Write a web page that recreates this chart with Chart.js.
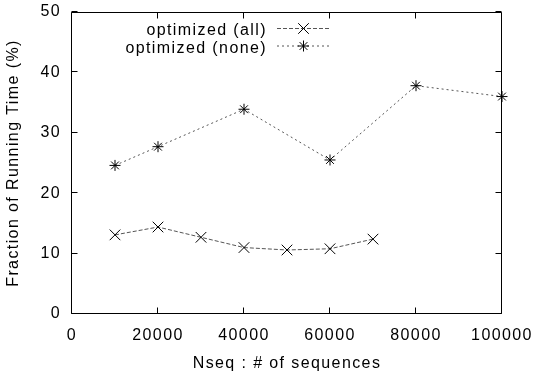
<!DOCTYPE html>
<html>
<head>
<meta charset="utf-8">
<script src="https://cdn.jsdelivr.net/npm/chart.js@4"></script>
<style>
  html, body { margin: 0; padding: 0; background: #fff; }
  #wrap { width: 535px; height: 375px; }
</style>
</head>
<body>
<div id="wrap"><canvas id="chart" width="535" height="375"></canvas></div>
<script>
// values
var allX = [10000, 20000, 30000, 40000, 50000, 60000, 70000];
var allY = [13.1, 14.4, 12.7, 11.0, 10.6, 10.8, 12.4];
var noneX = [10000, 20000, 40000, 60000, 80000, 100000];
var noneY = [24.6, 27.7, 33.9, 25.5, 37.8, 36.0];
var seriesNames = ['optimized (all)', 'optimized (none)'];
var xTicks = [0, 20000, 40000, 60000, 80000, 100000];
var yTicks = [0, 10, 20, 30, 40, 50];

var FONT = 'Liberation Sans, Arial, Helvetica, sans-serif';
var SPACING = '1.4px'; // gnuplot text is set wider than plain Arial

function toPoints(xs, ys) {
    return xs.map(function(x, i) { return { x: x, y: ys[i] }; });
}

// widen the text a bit everywhere (canvas resize resets this, so redo it)
var spacingPlugin = {
    id: 'spacing',
    beforeUpdate: function(chart) { chart.ctx.letterSpacing = SPACING; },
    beforeDraw: function(chart) { chart.ctx.letterSpacing = SPACING; }
};

// gnuplot-like frame with ticks pointing inwards on all four sides
var framePlugin = {
    id: 'frame',
    afterDraw: function(chart) {
        var ctx = chart.ctx, a = chart.chartArea;
        var xs = chart.scales.x, ys = chart.scales.y;
        var L = Math.round(a.left) - 0.5, R = Math.round(a.right) - 0.5;
        var T = Math.round(a.top) + 0.5, B = Math.round(a.bottom) - 0.5;
        var len = 6;
        ctx.save();
        ctx.strokeStyle = '#000';
        ctx.lineWidth = 1;
        ctx.setLineDash([]);
        ctx.beginPath();
        ctx.rect(L, T, R - L, B - T);
        xTicks.forEach(function(v) {
            var px = Math.round(xs.getPixelForValue(v)) - 0.5;
            ctx.moveTo(px, B); ctx.lineTo(px, B - len);
            ctx.moveTo(px, T); ctx.lineTo(px, T + len);
        });
        yTicks.forEach(function(v) {
            var py = Math.round(ys.getPixelForValue(v)) - 0.5;
            ctx.moveTo(L, py); ctx.lineTo(L + len, py);
            ctx.moveTo(R, py); ctx.lineTo(R - len, py);
        });
        ctx.stroke();
        ctx.restore();
    }
};

// key in the top-left, text right-aligned, sample after the text
var keyPlugin = {
    id: 'key',
    afterDraw: function(chart) {
        var ctx = chart.ctx;
        var textRight = 267, x0 = 277, x1 = 330;
        var baselines = [35, 52.5];
        ctx.save();
        chart.data.datasets.forEach(function(ds, i) {
            var y = baselines[i];
            var ly = y - 6.5;
            ctx.font = '16px ' + FONT;
            ctx.fillStyle = '#000';
            ctx.textAlign = 'right';
            ctx.textBaseline = 'alphabetic';
            ctx.fillText(ds.label, textRight, y);
            ctx.strokeStyle = ds.borderColor;
            ctx.lineWidth = ds.borderWidth;
            ctx.setLineDash(ds.borderDash);
            ctx.beginPath();
            ctx.moveTo(x0, ly); ctx.lineTo(x1, ly);
            ctx.stroke();
            ctx.setLineDash([]);
            ctx.strokeStyle = ds.pointBorderColor;
            ctx.lineWidth = ds.pointBorderWidth;
            Chart.helpers.drawPoint(ctx, { pointStyle: ds.pointStyle, radius: ds.pointRadius, rotation: 0, borderWidth: ds.pointBorderWidth }, (x0 + x1) / 2, ly);
        });
        ctx.restore();
    }
};

function noPadding(scale) {
    scale.paddingTop = 0;
    scale.paddingBottom = 0;
    scale.paddingLeft = 0;
    scale.paddingRight = 0;
}

var ctx = document.getElementById('chart').getContext('2d');
var myChart = new Chart(ctx, {
    type: 'scatter',
    data: {
        datasets: [{
            label: seriesNames[0],
            data: toPoints(allX, allY),
            showLine: true,
            borderColor: '#555',
            borderWidth: 1,
            borderDash: [4, 2],
            pointStyle: 'crossRot',
            pointRadius: 7.5,
            pointBorderColor: '#000',
            pointBorderWidth: 1,
            clip: false
        }, {
            label: seriesNames[1],
            data: toPoints(noneX, noneY),
            showLine: true,
            borderColor: '#555',
            borderWidth: 1,
            borderDash: [2, 3],
            pointStyle: 'star',
            pointRadius: 5.5,
            pointBorderColor: '#000',
            pointBorderWidth: 1,
            clip: false
        }]
    },
    options: {
        responsive: false,
        animation: false,
        layout: { padding: { top: 12, right: 33, left: 0, bottom: 0 } },
        plugins: {
            legend: { display: false },
            tooltip: { enabled: false }
        },
        scales: {
            x: {
                type: 'linear',
                min: 0,
                max: 100000,
                afterBuildTicks: function(scale) {
                    scale.ticks = xTicks.map(function(v) { return { value: v }; });
                },
                afterFit: function(scale) { scale.height = 61; noPadding(scale); },
                grid: { display: false, drawTicks: false },
                border: { display: false },
                ticks: {
                    padding: 12,
                    color: '#000',
                    maxRotation: 0,
                    font: { family: FONT, size: 16 },
                    callback: function(v) { return String(v); }
                },
                title: {
                    display: true,
                    text: 'Nseq : # of sequences',
                    color: '#000',
                    font: { family: FONT, size: 16 },
                    padding: { top: 0, bottom: 2 }
                }
            },
            y: {
                type: 'linear',
                min: 0,
                max: 50,
                afterBuildTicks: function(scale) {
                    scale.ticks = yTicks.map(function(v) { return { value: v }; });
                },
                afterFit: function(scale) { scale.width = 72; noPadding(scale); },
                grid: { display: false, drawTicks: false },
                border: { display: false },
                ticks: {
                    padding: 11,
                    color: '#000',
                    font: { family: FONT, size: 16 }
                },
                title: {
                    display: true,
                    text: 'Fraction of Running Time (%)',
                    color: '#000',
                    font: { family: FONT, size: 16 },
                    padding: { top: 4, bottom: 0 }
                }
            }
        }
    },
    plugins: [spacingPlugin, framePlugin, keyPlugin]
});
</script>
</body>
</html>
